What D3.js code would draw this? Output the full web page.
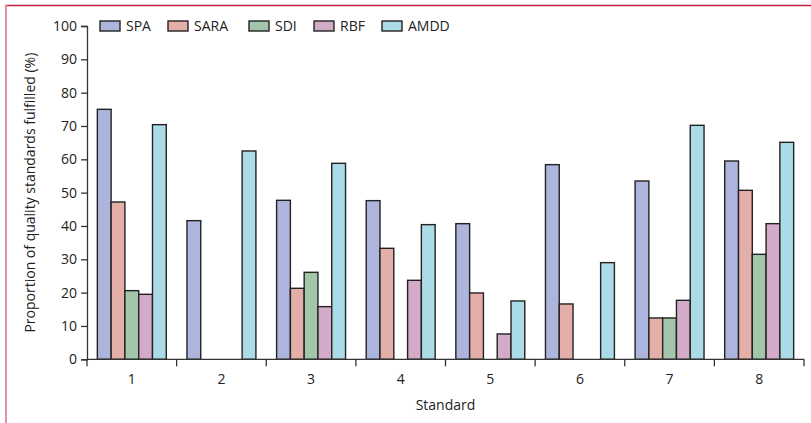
<!DOCTYPE html>
<html>
<head>
<meta charset="utf-8">
<script src="https://cdn.jsdelivr.net/npm/d3@7"></script>
<style>
  body { margin: 0; background: #fff; }
  svg text { font-family: 'Open Sans', sans-serif; fill: #222; }
</style>
</head>
<body>
<div id="chart"></div>
<script>
// Data
var standards = ['1', '2', '3', '4', '5', '6', '7', '8']
var seriesNames = ['SPA', 'SARA', 'SDI', 'RBF', 'AMDD']
var spa  = [75.0, 41.6, 47.7, 47.6, 40.7, 58.4, 53.5, 59.5]
var sara = [47.2, null, 21.3, 33.3, 19.9, 16.6, 12.4, 50.7]
var sdi  = [20.6, null, 26.1, null, null, null, 12.4, 31.5]
var rbf  = [19.5, null, 15.8, 23.7,  7.6, null, 17.7, 40.7]
var amdd = [70.4, 62.5, 58.8, 40.4, 17.5, 29.0, 70.2, 65.1]
var yTicks = [0, 10, 20, 30, 40, 50, 60, 70, 80, 90, 100]

var seriesValues = [spa, sara, sdi, rbf, amdd]
var colors = ['#adb5dc', '#e4aea9', '#a3c5aa', '#d3abc8', '#acdbe8']

var W = 811, H = 423
var margin = {top: 26, right: 7, bottom: 63.7, left: 87}
var width = W - margin.left - margin.right,
    height = H - margin.top - margin.bottom

var svg = d3.select('#chart').append('svg')
    .attr('width', W)
    .attr('height', H)

// page frame lines
svg.append('line')
    .attr('x1', 5).attr('x2', 811).attr('y1', 5.5).attr('y2', 5.5)
    .attr('stroke', '#c4203e').attr('stroke-width', 1.5)
svg.append('line')
    .attr('x1', 6).attr('x2', 6).attr('y1', 5).attr('y2', H)
    .attr('stroke', '#e28ea6').attr('stroke-width', 2)

var g = svg.append('g')
    .attr('transform', 'translate(' + margin.left + ',' + margin.top + ')')

var x0 = d3.scaleBand().domain(standards).range([0, width])
var x1 = d3.scaleBand().domain(seriesNames).range([0, x0.bandwidth()])
    .paddingInner(0).paddingOuter(0.75)
var y = d3.scaleLinear().domain([0, 100]).range([height, 0])

// bars
var rows = []
standards.forEach(function(s, i) {
  seriesNames.forEach(function(n, j) {
    if (seriesValues[j][i] != null) rows.push({std: s, name: n, value: seriesValues[j][i], color: colors[j]})
  })
})

g.selectAll('rect.bar')
    .data(rows)
  .enter().append('rect')
    .attr('class', 'bar')
    .attr('x', function(d) { return x0(d.std) + x1(d.name) })
    .attr('width', x1.bandwidth())
    .attr('y', function(d) { return y(d.value) })
    .attr('height', function(d) { return y(0) - y(d.value) })
    .attr('fill', function(d) { return d.color })
    .attr('stroke', '#222')
    .attr('stroke-width', 1.4)

// y axis
var yAxis = g.append('g')
    .call(d3.axisLeft(y).tickValues(yTicks).tickSize(6).tickPadding(4))
yAxis.select('.domain').attr('stroke', '#333').attr('stroke-width', 1.3)
yAxis.selectAll('.tick line').attr('stroke', '#333').attr('stroke-width', 1.3)
yAxis.selectAll('text').attr('font-size', '14px').attr('fill', '#222')

// x axis with ticks at band edges
var xAxis = g.append('g').attr('transform', 'translate(0,' + height + ')')
xAxis.append('line')
    .attr('x1', 0).attr('x2', width).attr('y1', 0).attr('y2', 0)
    .attr('stroke', '#333').attr('stroke-width', 1.3)
var edges = standards.map(function(s) { return x0(s) }).concat([width])
xAxis.selectAll('line.edge')
    .data(edges)
  .enter().append('line')
    .attr('class', 'edge')
    .attr('x1', function(d) { return d }).attr('x2', function(d) { return d })
    .attr('y1', 0).attr('y2', 7)
    .attr('stroke', '#333').attr('stroke-width', 1.3)
xAxis.selectAll('text.lbl')
    .data(standards)
  .enter().append('text')
    .attr('class', 'lbl')
    .attr('x', function(d) { return x0(d) + x0.bandwidth() / 2 })
    .attr('y', 25)
    .attr('text-anchor', 'middle')
    .attr('font-size', '14px')
    .text(function(d) { return d })

// axis titles
g.append('text')
    .attr('x', width / 2)
    .attr('y', height + 51)
    .attr('text-anchor', 'middle')
    .attr('font-size', '14px')
    .text('Standard')
g.append('text')
    .attr('transform', 'translate(' + (-52) + ',' + (height / 2) + ') rotate(-90)')
    .attr('text-anchor', 'middle')
    .attr('font-size', '14px')
    .text('Proportion of quality standards fulfilled (%)')

// legend
var legendX = [100, 168, 249, 314, 382]
var legend = svg.selectAll('g.legend')
    .data(seriesNames)
  .enter().append('g')
    .attr('class', 'legend')
    .attr('transform', function(d, i) { return 'translate(' + legendX[i] + ',21)' })
legend.append('rect')
    .attr('width', 20).attr('height', 10)
    .attr('fill', function(d, i) { return colors[i] })
    .attr('stroke', '#222').attr('stroke-width', 1.4)
legend.append('text')
    .attr('x', 26).attr('y', 10)
    .attr('font-size', '14px')
    .text(function(d) { return d })
</script>
</body>
</html>
